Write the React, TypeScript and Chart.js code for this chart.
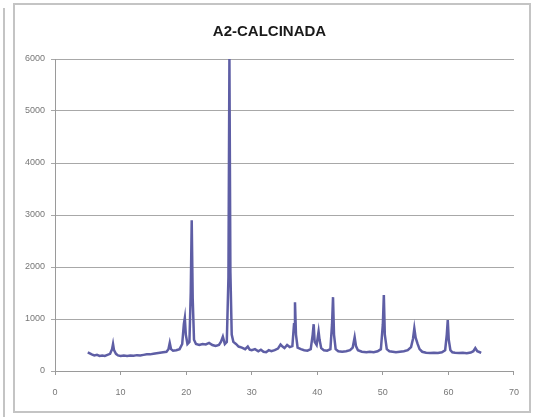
import React, { useEffect, useRef } from "react";
import { Chart, registerables } from "chart.js";

Chart.register(...registerables);

const TITLE = "A2-CALCINADA";

const twoTheta: number[] = [
  5.0, 5.3, 5.6, 6.0, 6.4, 6.8, 7.2, 7.6, 8.0, 8.4, 8.7, 8.85, 9.0, 9.3, 9.6,
  10.0, 10.5, 11.0, 11.5, 12.0, 12.5, 13.0, 13.5, 14.0, 14.5, 15.0, 15.5, 16.0,
  16.5, 17.0, 17.3, 17.5, 17.7, 18.0, 18.5, 19.0, 19.4, 19.65, 19.8, 19.95,
  20.2, 20.5, 20.7, 20.85, 21.0, 21.2, 21.5, 22.0, 22.5, 23.0, 23.5, 24.0, 24.5,
  25.0, 25.3, 25.6, 25.9, 26.2, 26.45, 26.6, 26.75, 26.95, 27.2, 27.6, 28.0,
  28.5, 29.0, 29.4, 29.7, 30.0, 30.5, 31.0, 31.4, 31.8, 32.2, 32.6, 33.0, 33.5,
  34.0, 34.4, 34.7, 35.0, 35.4, 35.8, 36.2, 36.45, 36.6, 36.75, 37.0, 37.5,
  38.0, 38.5, 39.0, 39.3, 39.45, 39.6, 39.9, 40.2, 40.35, 40.6, 41.0, 41.5,
  42.0, 42.25, 42.4, 42.55, 42.8, 43.2, 43.8, 44.4, 45.0, 45.4, 45.7, 45.9,
  46.2, 46.8, 47.5, 48.0, 48.6, 49.2, 49.7, 50.0, 50.15, 50.3, 50.6, 51.0,
  51.5, 52.0, 52.6, 53.2, 53.8, 54.3, 54.6, 54.8, 55.0, 55.3, 55.6, 56.0, 56.6,
  57.2, 57.8, 58.4, 59.0, 59.5, 59.75, 59.9, 60.05, 60.3, 60.6, 61.0, 61.6,
  62.2, 62.8, 63.4, 63.8, 64.1, 64.4, 64.8, 65.0,
];

const intensity: number[] = [
  360, 340, 320, 300, 310, 290, 300, 290, 310, 330, 420, 520, 400, 330, 300,
  290, 300, 290, 300, 295, 305, 300, 310, 320, 320, 330, 340, 350,
  360, 370, 420, 540, 420, 390, 400, 420, 520, 900, 1020, 700,
  520, 560, 1500, 2900, 1400, 600, 520, 500, 520, 510, 540, 500, 480,
  500, 560, 660, 520, 560, 1800, 6000, 1900, 700, 560, 520, 470,
  450, 420, 470, 410, 400, 420, 380, 410, 370, 360, 400, 380, 400,
  430, 510, 470, 440, 500, 460, 480, 900, 1320, 700, 450, 420,
  400, 390, 420, 700, 900, 560, 500, 760, 600, 440, 400, 390,
  420, 900, 1420, 700, 420, 380, 370, 380, 400, 450, 650, 480,
  400, 370, 360, 370, 360, 380, 420, 900, 1460, 700, 420, 380,
  370, 360, 370, 380, 400, 460, 620, 820, 640, 520, 420, 370, 350,
  345, 350, 345, 360, 400, 700, 980, 600, 400, 360, 350, 345,
  350, 340, 355, 380, 440, 380, 360, 350,
];

const xTicks = { min: 0, max: 70, step: 10 };
const yTicks = { min: 0, max: 6000, step: 1000 };

const framePlugin = {
  id: "frame",
  beforeDraw(chart: any) {
    const { ctx, width, height } = chart;
    ctx.save();
    ctx.fillStyle = "#ffffff";
    ctx.fillRect(0, 0, width, height);
    ctx.strokeStyle = "#c4c4c4";
    ctx.lineWidth = 2;
    ctx.strokeRect(1, 1, width - 2, height - 2);
    ctx.restore();
  },
};

export default function App() {
  const ref = useRef<HTMLCanvasElement | null>(null);

  useEffect(() => {
    if (!ref.current) return;
    const chart = new Chart(ref.current, {
      type: "line",
      data: {
        datasets: [
          {
            label: TITLE,
            data: twoTheta.map((x, i) => ({ x, y: intensity[i] })),
            borderColor: "#5e5ea5",
            borderWidth: 2.5,
            pointRadius: 0,
            tension: 0,
            fill: false,
          },
        ],
      },
      options: {
        animation: false,
        responsive: false,
        maintainAspectRatio: false,
        layout: { padding: { left: 0, right: 5, top: 0, bottom: 0 } },
        plugins: {
          legend: { display: false },
          tooltip: { enabled: false },
          title: {
            display: true,
            text: TITLE,
            color: "#1a1a1a",
            font: { family: "'Liberation Sans', sans-serif", size: 15, weight: "bold" },
            padding: { top: 20, bottom: 18 },
          },
        },
        scales: {
          x: {
            type: "linear",
            min: xTicks.min,
            max: xTicks.max,
            afterFit: (s: any) => {
              s.height = 42;
            },
            ticks: {
              stepSize: xTicks.step,
              color: "#777",
              padding: 12,
              font: { family: "'Liberation Sans', sans-serif", size: 9 },
              callback: (v: any) => String(v),
            },
            grid: {
              drawOnChartArea: false,
              drawTicks: true,
              tickLength: 4,
              color: "#9a9a9a",
            },
            border: { color: "#9a9a9a", width: 1 },
          },
          y: {
            type: "linear",
            min: yTicks.min,
            max: yTicks.max,
            afterFit: (s: any) => {
              s.width = 42;
            },
            ticks: {
              stepSize: yTicks.step,
              color: "#777",
              padding: 6,
              font: { family: "'Liberation Sans', sans-serif", size: 9 },
              callback: (v: any) => String(v),
            },
            grid: {
              color: "#a8a8a8",
              lineWidth: 1,
              drawTicks: true,
              tickLength: 4,
            },
            border: { color: "#9a9a9a", width: 1 },
          },
        },
      },
      plugins: [framePlugin],
    });
    return () => chart.destroy();
  }, []);

  return (
    <div style={{ position: "absolute", left: 0, top: 0, width: 533, height: 417, background: "#fff" }}>
      <div style={{ position: "absolute", left: 3, top: 8, width: 2, height: 409, background: "#c4c4c4" }} />
      <canvas ref={ref} width={518} height={410} style={{ position: "absolute", left: 13, top: 3, width: 518, height: 410 }} />
    </div>
  );
}
